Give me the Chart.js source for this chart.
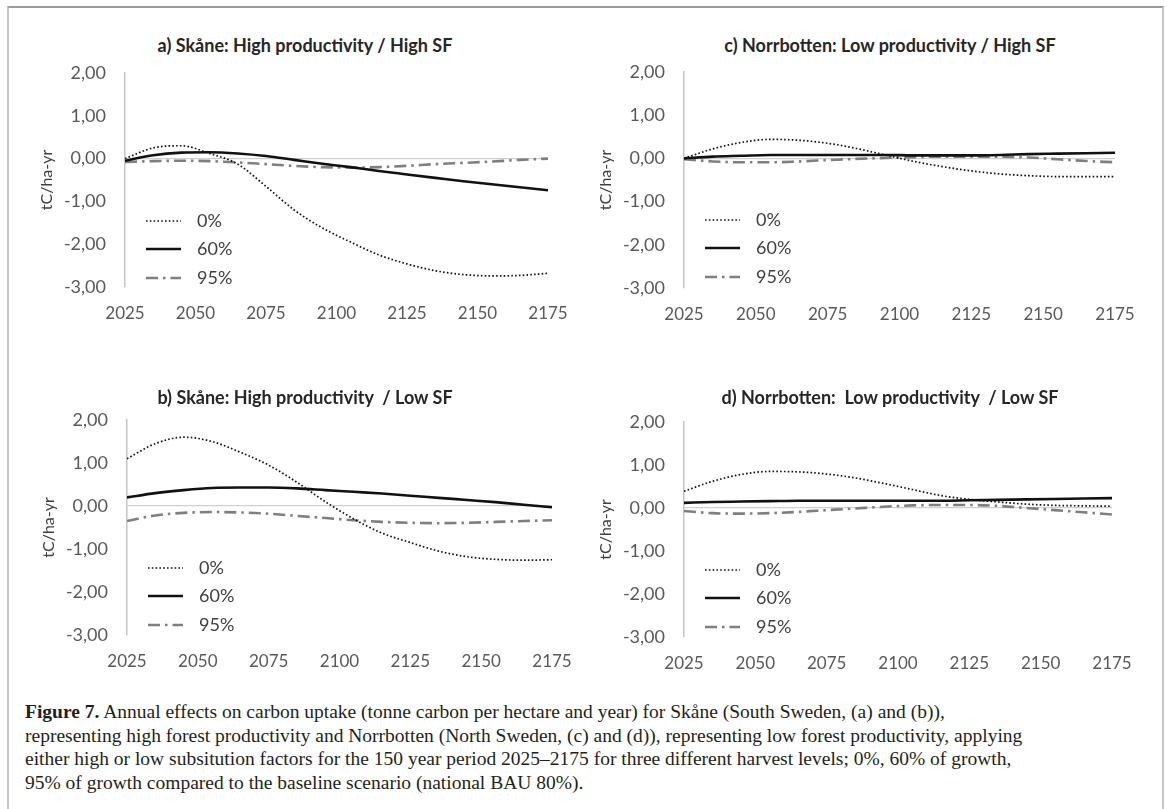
<!DOCTYPE html>
<html><head><meta charset="utf-8">
<script src="https://cdn.jsdelivr.net/npm/chart.js@4.4.0/dist/chart.umd.min.js"></script>
<style>
html,body{margin:0;padding:0;background:#fff;}
body{width:1167px;height:809px;position:relative;overflow:hidden;font-family:Lato,"Open Sans",sans-serif;}
#frame{position:absolute;left:7px;top:6px;width:1157px;height:830px;border-top:2px solid #9c9c9c;border-left:2px solid #c6c6c6;border-right:2px solid #c6c6c6;box-sizing:border-box;}
canvas{position:absolute;}
.ptitle{position:absolute;font-weight:bold;font-size:18px;color:#262626;white-space:pre;transform:translate(-50%,-50%);font-family:Lato,sans-serif;}
#caption{position:absolute;left:25px;top:700px;font-family:"Liberation Serif","DejaVu Serif",serif;font-size:19.5px;line-height:23.5px;color:#231f20;white-space:nowrap;}
</style></head>
<body>
<div id="frame"></div>
<div id="caption">
<div><b>Figure 7.</b> Annual effects on carbon uptake (tonne carbon per hectare and year) for Skåne (South Sweden, (a) and (b)),</div>
<div>representing high forest productivity and Norrbotten (North Sweden, (c) and (d)), representing low forest productivity, applying</div>
<div>either high or low subsitution factors for the 150 year period 2025–2175 for three different harvest levels; 0%, 60% of growth,</div>
<div>95% of growth compared to the baseline scenario (national BAU 80%).</div>
</div>
<script>
// ---- data ----
const years = [2025, 2035, 2045, 2055, 2065, 2075, 2085, 2095, 2105, 2115, 2125, 2135, 2145, 2155, 2165, 2175];
const seriesLabels = ['0%', '60%', '95%'];
const yTicks = [-3, -2, -1, 0, 1, 2];
const xTicks = [2025, 2050, 2075, 2100, 2125, 2150, 2175];

// a) Skåne: High productivity / High SF
const a0  = [0.00, 0.25, 0.30, 0.12, -0.13, -0.65, -1.20, -1.62, -1.95, -2.25, -2.46, -2.62, -2.71, -2.74, -2.73, -2.68];
const a60 = [-0.05, 0.08, 0.14, 0.15, 0.12, 0.06, -0.03, -0.12, -0.20, -0.29, -0.37, -0.45, -0.53, -0.60, -0.67, -0.74];
const a95 = [-0.08, -0.06, -0.05, -0.06, -0.09, -0.13, -0.17, -0.20, -0.21, -0.20, -0.17, -0.13, -0.10, -0.07, -0.03, 0.00];
// b) Skåne: High productivity / Low SF
const b0  = [1.10, 1.45, 1.60, 1.50, 1.25, 0.95, 0.55, 0.10, -0.30, -0.63, -0.85, -1.05, -1.18, -1.24, -1.26, -1.25];
const b60 = [0.20, 0.30, 0.37, 0.42, 0.43, 0.43, 0.41, 0.37, 0.33, 0.29, 0.24, 0.19, 0.14, 0.09, 0.03, -0.03];
const b95 = [-0.35, -0.22, -0.16, -0.14, -0.15, -0.18, -0.23, -0.28, -0.33, -0.37, -0.39, -0.40, -0.39, -0.37, -0.35, -0.33];
// c) Norrbotten: Low productivity / High SF
const c0  = [0.00, 0.22, 0.37, 0.44, 0.42, 0.35, 0.23, 0.08, -0.07, -0.19, -0.29, -0.36, -0.40, -0.42, -0.42, -0.42];
const c60 = [0.00, 0.04, 0.06, 0.08, 0.08, 0.08, 0.08, 0.08, 0.07, 0.07, 0.07, 0.08, 0.10, 0.11, 0.12, 0.13];
const c95 = [-0.02, -0.07, -0.09, -0.09, -0.07, -0.04, -0.01, 0.01, 0.03, 0.04, 0.04, 0.04, 0.02, -0.02, -0.06, -0.09];
// d) Norrbotten: Low productivity / Low SF
const d0  = [0.39, 0.62, 0.78, 0.85, 0.84, 0.79, 0.70, 0.57, 0.43, 0.29, 0.20, 0.14, 0.09, 0.06, 0.05, 0.04];
const d60 = [0.12, 0.14, 0.15, 0.16, 0.17, 0.17, 0.17, 0.17, 0.17, 0.17, 0.18, 0.19, 0.20, 0.21, 0.22, 0.23];
const d95 = [-0.07, -0.12, -0.13, -0.12, -0.09, -0.05, -0.01, 0.03, 0.06, 0.07, 0.07, 0.05, 0.00, -0.05, -0.10, -0.15];

const titles = {
  a: 'a) Skåne: High productivity / High SF',
  b: 'b) Skåne: High productivity  / Low SF',
  c: 'c) Norrbotten: Low productivity / High SF',
  d: 'd) Norrbotten:  Low productivity  / Low SF'
};
const yTitle = 'tC/ha-yr';

// ---- layout ----
const panels = [
  {key:'a', s:[a0,a60,a95], L:125, R:548, T:73,  B:287, tx:305, ty:45},
  {key:'c', s:[c0,c60,c95], L:684, R:1115, T:72, B:288, tx:890, ty:45},
  {key:'b', s:[b0,b60,b95], L:127, R:552, T:420, B:635, tx:305, ty:397},
  {key:'d', s:[d0,d60,d95], L:684, R:1112, T:422, B:637, tx:890, ty:397}
];
const YW = 105, PADT = 14, XH = 40, PADB = 7, PADR = 28;

const styles = [
  {borderColor:'#111', borderWidth:1.7, borderDash:[1.6,2.2]},
  {borderColor:'#111', borderWidth:2.6, borderDash:[]},
  {borderColor:'#7f7f7f', borderWidth:2.6, borderDash:[12,5,2.5,5]}
];

const legendPlugin = {
  id:'inLegend',
  afterDatasetsDraw(chart){
    const ctx = chart.ctx, ca = chart.chartArea;
    const rows = [148, 176, 205];
    ctx.save();
    chart.data.datasets.forEach((ds,i)=>{
      const y = ca.top + rows[i];
      ctx.beginPath();
      ctx.setLineDash(ds.borderDash||[]);
      ctx.lineWidth = ds.borderWidth;
      ctx.strokeStyle = ds.borderColor;
      ctx.moveTo(ca.left+21, y); ctx.lineTo(ca.left+56, y);
      ctx.stroke();
      ctx.setLineDash([]);
      ctx.fillStyle = '#404040';
      ctx.font = '18px Lato';
      ctx.textBaseline = 'middle';
      ctx.fillText(ds.label, ca.left+72, y);
    });
    ctx.restore();
  }
};

const fmt = v => v.toFixed(2).replace('.', ',');

panels.forEach(p=>{
  const cv = document.createElement('canvas');
  const left = p.L - YW, top = p.T - PADT;
  const w = p.R + PADR - left, h = p.B + XH + PADB - top;
  cv.width = w; cv.height = h;
  cv.style.left = left+'px'; cv.style.top = top+'px';
  cv.style.width = w+'px'; cv.style.height = h+'px';
  document.body.appendChild(cv);

  const t = document.createElement('div');
  t.className = 'ptitle';
  t.textContent = titles[p.key];
  t.style.left = p.tx+'px'; t.style.top = p.ty+'px';
  document.body.appendChild(t);

  new Chart(cv, {
    type:'line',
    data:{
      datasets: p.s.map((arr,i)=>Object.assign({
        label: seriesLabels[i],
        data: years.map((yr,j)=>({x:yr, y:arr[j]})),
        pointRadius:0, fill:false,
        cubicInterpolationMode:'monotone'
      }, styles[i]))
    },
    options:{
      responsive:false, animation:false, devicePixelRatio:1,
      layout:{padding:{left:0, right:PADR, top:PADT, bottom:PADB}},
      plugins:{legend:{display:false}, tooltip:{enabled:false}, title:{display:false}},
      scales:{
        x:{
          type:'linear', min:2025, max:2175,
          afterBuildTicks: s => { s.ticks = xTicks.map(v=>({value:v})); },
          ticks:{color:'#595959', font:{family:'Lato', size:17}, padding:16, maxRotation:0, autoSkip:false, callback:v=>String(v)},
          grid:{display:false, drawTicks:false},
          border:{display:false},
          afterFit: s => { s.height = XH; s.paddingLeft = 0; s.paddingRight = 0; }
        },
        y:{
          min:-3, max:2,
          afterBuildTicks: s => { s.ticks = yTicks.map(v=>({value:v})); },
          ticks:{color:'#595959', font:{family:'Lato', size:18}, padding:19, callback:v=>fmt(v)},
          grid:{drawTicks:false, lineWidth:1.3, color: c => (c.tick && c.tick.value===0) ? '#cfcfcf' : 'rgba(0,0,0,0)'},
          border:{display:true, color:'#c4c4c4', width:1.5},
          title:{display:true, text:yTitle, color:'#404040', font:{family:'Lato', size:16}, padding:{top:17, bottom:0}},
          afterFit: s => { s.width = YW; s.paddingTop = 0; s.paddingBottom = 0; }
        }
      }
    },
    plugins:[legendPlugin]
  });
});
</script>
</body></html>
